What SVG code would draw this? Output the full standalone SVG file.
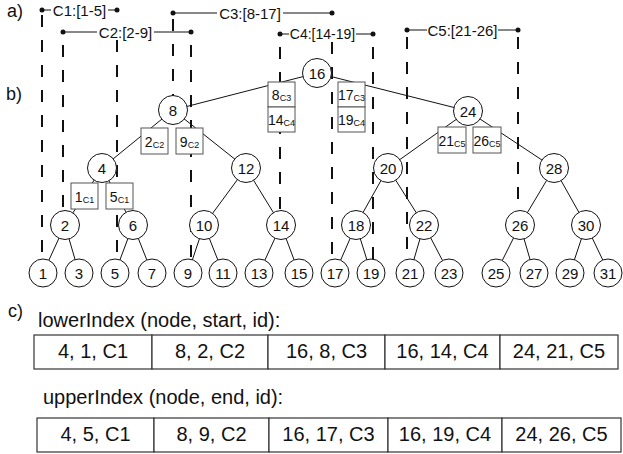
<svg xmlns="http://www.w3.org/2000/svg" width="623" height="454" viewBox="0 0 623 454">
<style>
text{font-family:"Liberation Sans",Arial,sans-serif;fill:#111}
.node circle{fill:#fff;stroke:#111;stroke-width:1}
.node text{font-size:15px;text-anchor:middle}
.box rect{fill:#fff;stroke:#555;stroke-width:1}
.box text{font-size:14px;text-anchor:middle}
.box tspan.s{font-size:9px}
.edge{stroke:#111;stroke-width:1;fill:none}
.dash{stroke:#111;stroke-width:2;stroke-dasharray:12,13;fill:none}
.br{stroke:#111;stroke-width:1}
.dot{fill:#111}
.lbl{font-size:15px;text-anchor:middle}
.part{font-size:18px}
.cell rect{fill:#fff;stroke:#333;stroke-width:1.2}
.cell text{font-size:20px;text-anchor:middle}
.title{font-size:20px}
</style>

<text class="part" x="7" y="17">a)</text>
<text class="part" x="6" y="100">b)</text>
<text class="part" x="8" y="317">c)</text>

<g id="intervals">
<g id="C1">
<line class="dash" x1="42" y1="15" x2="42" y2="259"/>
<line class="dash" x1="117" y1="40" x2="117" y2="260"/>
<line class="br" x1="42" y1="10" x2="51" y2="10"/>
<line class="br" x1="108" y1="10" x2="117" y2="10"/>
<circle class="dot" cx="42" cy="10" r="2.5"/><circle class="dot" cx="117" cy="10" r="2.5"/>
<text class="lbl" x="79.5" y="15.5">C1:[1-5]</text>
</g>
<g id="C2">
<line class="dash" x1="63" y1="45" x2="63" y2="211"/>
<line class="dash" x1="191" y1="45" x2="191" y2="259"/>
<line class="br" x1="63" y1="32" x2="97" y2="32"/>
<line class="br" x1="154" y1="32" x2="191" y2="32"/>
<circle class="dot" cx="63" cy="32" r="2.5"/><circle class="dot" cx="191" cy="32" r="2.5"/>
<text class="lbl" x="125.5" y="37.5">C2:[2-9]</text>
</g>
<g id="C3">
<line class="dash" x1="173" y1="19" x2="173" y2="96"/>
<line class="dash" x1="332" y1="42" x2="332" y2="259"/>
<line class="br" x1="173" y1="13" x2="217" y2="13"/>
<line class="br" x1="283" y1="13" x2="332" y2="13"/>
<circle class="dot" cx="173" cy="13" r="2.5"/><circle class="dot" cx="332" cy="13" r="2.5"/>
<text class="lbl" x="250" y="18.5">C3:[8-17]</text>
</g>
<g id="C4">
<line class="dash" x1="280" y1="47" x2="280" y2="211"/>
<line class="dash" x1="373" y1="47" x2="373" y2="259"/>
<line class="br" x1="280" y1="34" x2="289" y2="34"/>
<line class="br" x1="356" y1="34" x2="373" y2="34"/>
<circle class="dot" cx="280" cy="34" r="2.5"/><circle class="dot" cx="373" cy="34" r="2.5"/>
<text class="lbl" x="322.5" y="39" style="font-size:14px">C4:[14-19]</text>
</g>
<g id="C5">
<line class="dash" x1="407" y1="37" x2="407" y2="260"/>
<line class="dash" x1="518" y1="37" x2="518" y2="211"/>
<line class="br" x1="407" y1="30" x2="427" y2="30"/>
<line class="br" x1="498" y1="30" x2="518" y2="30"/>
<circle class="dot" cx="407" cy="30" r="2.5"/><circle class="dot" cx="518" cy="30" r="2.5"/>
<text class="lbl" x="462.5" y="35.5">C5:[21-26]</text>
</g>
</g>

<g id="connectors">
<line class="edge" x1="317" y1="73" x2="173" y2="110"/>
<line class="edge" x1="317" y1="73" x2="468" y2="111"/>
<line class="edge" x1="173" y1="110" x2="102" y2="168"/>
<line class="edge" x1="173" y1="110" x2="246" y2="168"/>
<line class="edge" x1="468" y1="111" x2="388" y2="168"/>
<line class="edge" x1="468" y1="111" x2="554" y2="168"/>
<line class="edge" x1="102" y1="168" x2="65" y2="225"/>
<line class="edge" x1="102" y1="168" x2="133" y2="225"/>
<line class="edge" x1="246" y1="168" x2="204" y2="225"/>
<line class="edge" x1="246" y1="168" x2="281" y2="225"/>
<line class="edge" x1="388" y1="168" x2="356" y2="225"/>
<line class="edge" x1="388" y1="168" x2="424" y2="225"/>
<line class="edge" x1="554" y1="168" x2="520" y2="225"/>
<line class="edge" x1="554" y1="168" x2="586" y2="225"/>
<line class="edge" x1="65" y1="225" x2="43" y2="273"/>
<line class="edge" x1="65" y1="225" x2="79" y2="273"/>
<line class="edge" x1="133" y1="225" x2="115" y2="273"/>
<line class="edge" x1="133" y1="225" x2="152" y2="273"/>
<line class="edge" x1="204" y1="225" x2="188" y2="273"/>
<line class="edge" x1="204" y1="225" x2="223" y2="273"/>
<line class="edge" x1="281" y1="225" x2="259" y2="273"/>
<line class="edge" x1="281" y1="225" x2="299" y2="273"/>
<line class="edge" x1="356" y1="225" x2="335" y2="273"/>
<line class="edge" x1="356" y1="225" x2="371" y2="273"/>
<line class="edge" x1="424" y1="225" x2="410" y2="273"/>
<line class="edge" x1="424" y1="225" x2="449" y2="273"/>
<line class="edge" x1="520" y1="225" x2="496" y2="273"/>
<line class="edge" x1="520" y1="225" x2="534" y2="273"/>
<line class="edge" x1="586" y1="225" x2="570" y2="273"/>
<line class="edge" x1="586" y1="225" x2="609" y2="273"/>
</g>

<g id="n16" class="node"><circle cx="317" cy="73" r="14.5"/><text x="317" y="78.5">16</text></g>
<g id="n8" class="node"><circle cx="173" cy="110" r="14.5"/><text x="173" y="115.5">8</text></g>
<g id="n24" class="node"><circle cx="468" cy="111" r="14.5"/><text x="468" y="116.5">24</text></g>
<g id="n4" class="node"><circle cx="102" cy="168" r="14.5"/><text x="102" y="173.5">4</text></g>
<g id="n12" class="node"><circle cx="246" cy="168" r="14.5"/><text x="246" y="173.5">12</text></g>
<g id="n20" class="node"><circle cx="388" cy="168" r="14.5"/><text x="388" y="173.5">20</text></g>
<g id="n28" class="node"><circle cx="554" cy="168" r="14.5"/><text x="554" y="173.5">28</text></g>
<g id="n2" class="node"><circle cx="65" cy="225" r="14.5"/><text x="65" y="230.5">2</text></g>
<g id="n6" class="node"><circle cx="133" cy="225" r="14.5"/><text x="133" y="230.5">6</text></g>
<g id="n10" class="node"><circle cx="204" cy="225" r="14.5"/><text x="204" y="230.5">10</text></g>
<g id="n14" class="node"><circle cx="281" cy="225" r="14.5"/><text x="281" y="230.5">14</text></g>
<g id="n18" class="node"><circle cx="356" cy="225" r="14.5"/><text x="356" y="230.5">18</text></g>
<g id="n22" class="node"><circle cx="424" cy="225" r="14.5"/><text x="424" y="230.5">22</text></g>
<g id="n26" class="node"><circle cx="520" cy="225" r="14.5"/><text x="520" y="230.5">26</text></g>
<g id="n30" class="node"><circle cx="586" cy="225" r="14.5"/><text x="586" y="230.5">30</text></g>
<g id="n1" class="node"><circle cx="43" cy="273" r="14"/><text x="43" y="278.5">1</text></g>
<g id="n3" class="node"><circle cx="79" cy="273" r="14"/><text x="79" y="278.5">3</text></g>
<g id="n5" class="node"><circle cx="115" cy="273" r="14"/><text x="115" y="278.5">5</text></g>
<g id="n7" class="node"><circle cx="152" cy="273" r="14"/><text x="152" y="278.5">7</text></g>
<g id="n9" class="node"><circle cx="188" cy="273" r="14"/><text x="188" y="278.5">9</text></g>
<g id="n11" class="node"><circle cx="223" cy="273" r="14"/><text x="223" y="278.5">11</text></g>
<g id="n13" class="node"><circle cx="259" cy="273" r="14"/><text x="259" y="278.5">13</text></g>
<g id="n15" class="node"><circle cx="299" cy="273" r="14"/><text x="299" y="278.5">15</text></g>
<g id="n17" class="node"><circle cx="335" cy="273" r="14"/><text x="335" y="278.5">17</text></g>
<g id="n19" class="node"><circle cx="371" cy="273" r="14"/><text x="371" y="278.5">19</text></g>
<g id="n21" class="node"><circle cx="410" cy="273" r="14"/><text x="410" y="278.5">21</text></g>
<g id="n23" class="node"><circle cx="449" cy="273" r="14"/><text x="449" y="278.5">23</text></g>
<g id="n25" class="node"><circle cx="496" cy="273" r="14"/><text x="496" y="278.5">25</text></g>
<g id="n27" class="node"><circle cx="534" cy="273" r="14"/><text x="534" y="278.5">27</text></g>
<g id="n29" class="node"><circle cx="570" cy="273" r="14"/><text x="570" y="278.5">29</text></g>
<g id="n31" class="node"><circle cx="608" cy="273" r="14"/><text x="608" y="278.5">31</text></g>

<g id="b8c3" class="box"><rect x="268" y="82" width="27" height="25"/><text x="281.5" y="100">8<tspan class="s" dy="1">C3</tspan></text></g>
<g id="b14c4" class="box"><rect x="268" y="107" width="27" height="25"/><text x="281.5" y="125">14<tspan class="s" dy="1">C4</tspan></text></g>
<g id="b17c3" class="box"><rect x="338" y="82" width="27" height="25"/><text x="351.5" y="100">17<tspan class="s" dy="1">C3</tspan></text></g>
<g id="b19c4" class="box"><rect x="338" y="107" width="27" height="25"/><text x="351.5" y="125">19<tspan class="s" dy="1">C4</tspan></text></g>
<g id="b2c2" class="box"><rect x="141" y="128" width="27" height="26"/><text x="154.5" y="146.5">2<tspan class="s" dy="1">C2</tspan></text></g>
<g id="b9c2" class="box"><rect x="176" y="128" width="27" height="26"/><text x="189.5" y="146.5">9<tspan class="s" dy="1">C2</tspan></text></g>
<g id="b21c5" class="box"><rect x="438" y="127" width="28" height="26"/><text x="452" y="145.5">21<tspan class="s" dy="1">C5</tspan></text></g>
<g id="b26c5" class="box"><rect x="473" y="127" width="28" height="26"/><text x="487" y="145.5">26<tspan class="s" dy="1">C5</tspan></text></g>
<g id="b1c1" class="box"><rect x="71" y="183" width="27" height="26"/><text x="84.5" y="201.5">1<tspan class="s" dy="1">C1</tspan></text></g>
<g id="b5c1" class="box"><rect x="106" y="183" width="27" height="26"/><text x="119.5" y="201.5">5<tspan class="s" dy="1">C1</tspan></text></g>

<text class="title" x="38" y="327">lowerIndex (node, start, id):</text>
<g id="lowerIndex" class="cell">
<rect x="34" y="335" width="118" height="34"/><text x="93" y="358">4, 1, C1</text>
<rect x="152" y="335" width="116" height="34"/><text x="210" y="358">8, 2, C2</text>
<rect x="268" y="335" width="117" height="34"/><text x="326.5" y="358">16, 8, C3</text>
<rect x="385" y="335" width="115" height="34"/><text x="442.5" y="358">16, 14, C4</text>
<rect x="500" y="335" width="118" height="34"/><text x="559" y="358">24, 21, C5</text>
</g>
<text class="title" x="43" y="404">upperIndex (node, end, id):</text>
<g id="upperIndex" class="cell">
<rect x="37" y="418" width="117" height="34"/><text x="95.5" y="441">4, 5, C1</text>
<rect x="154" y="418" width="115" height="34"/><text x="211.5" y="441">8, 9, C2</text>
<rect x="269" y="418" width="119" height="34"/><text x="328.5" y="441">16, 17, C3</text>
<rect x="388" y="418" width="114" height="34"/><text x="445" y="441">16, 19, C4</text>
<rect x="502" y="418" width="119" height="34"/><text x="561.5" y="441">24, 26, C5</text>
</g>
</svg>
